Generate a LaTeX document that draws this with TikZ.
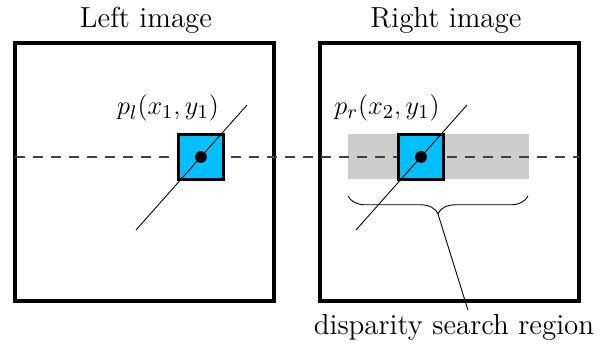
\documentclass[tikz,border=0pt]{standalone}
\usepackage{tikz}
\usetikzlibrary{calc,decorations.pathreplacing}
\definecolor{pixblue}{RGB}{0,191,255}
\definecolor{searchgray}{RGB}{205,205,205}

\begin{document}
\begin{tikzpicture}[x=0.016cm,y=-0.016cm]
		\tikzset{>=latex}
		\tikzset{pixel/.style={draw,line width=1.4pt,fill=pixblue,minimum size=20.5pt,inner sep=0pt}}
		\tikzset{title/.style={font=\fontsize{13.2}{16}\selectfont}}
		\useasboundingbox (0,0) rectangle (616,350);
		
		\coordinate (L1) at (15,43);
		\coordinate (L2) at (274,301);
		\coordinate (R1) at (320,43);
		\coordinate (R2) at (579,301);
		
		\draw[line width=1.4pt] (L1) rectangle (L2);
		\draw[line width=1.4pt] (R1) rectangle (R2);
		
		\node[title] (ltitle) at (146,20) {Left image};
		\node[title] (rtitle) at (446,20) {Right image};
		
		% search region
		\fill[searchgray] (348,134) rectangle (529,179);
		
		\draw[thick,black!75,dash pattern=on 4.6pt off 3.6pt] (15,157) -- (579,157);
		
		\node[pixel] (pl) at (201,157) {};
		\node[pixel] (pr) at (421,157) {};
		
		\draw ($(pl)+(-65,73)$) -- ($(pl)+(46,-52)$);
		\draw ($(pr)+(-65,73)$) -- ($(pr)+(46,-52)$);
		
		\fill[black] (pl) circle (2.7pt);
		\fill[black] (pr) circle (2.7pt);
		
		\node[title] (plabel) at (168,108) {$p_l(x_1,y_1)$};
		\node[title] (prlabel) at (387,108) {$p_r(x_2,y_1)$};
		
		\draw[decorate,decoration={brace,amplitude=8pt}] (528,196) -- (348,196);
		\coordinate (tip) at (438,214);
		
		\node[title] (region) at (454,327) {disparity search region};
		\draw (tip) -- ($(region.north)+(14,4)$);
		
	\end{tikzpicture}
\end{document}
